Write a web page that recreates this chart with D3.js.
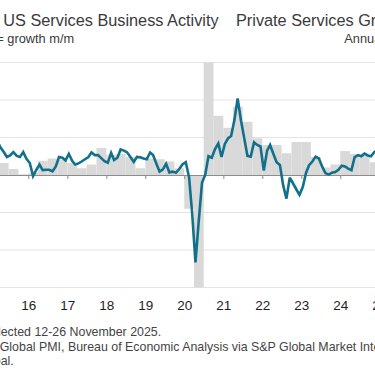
<!DOCTYPE html>
<html><head><meta charset="utf-8">
<script src="https://cdn.jsdelivr.net/npm/d3@7"></script>
<style>html,body{margin:0;padding:0;background:#fff;overflow:hidden}svg{display:block}</style>
</head><body>
<svg id="c" width="375" height="375"></svg>
<script>
// ---------- data ----------
const pmiStart = [2015, 0];           // first month (Jan 2015)
const pmiValues = [
  54.2, 57.1, 59.2, 57.4, 56.2, 54.8, 55.2, 56.1, 55.1, 54.8, 56.1, 54.3,   // 2015
  53.2, 49.7, 51.3, 52.8, 51.3, 51.4, 51.4, 51.0, 52.3, 54.8, 54.6, 53.9,   // 2016
  55.6, 53.8, 52.8, 53.1, 53.6, 54.2, 54.7, 56.0, 55.3, 55.3, 54.5, 53.7,   // 2017
  53.3, 55.9, 54.0, 54.6, 56.8, 56.5, 56.0, 54.8, 53.5, 54.8, 54.7, 54.4,   // 2018
  54.2, 56.0, 55.3, 53.0, 50.9, 51.5, 53.0, 50.7, 50.9, 50.6, 51.6, 52.8,   // 2019
  53.4, 49.4, 39.8, 26.7, 37.5, 47.9, 50.0, 55.0, 54.6, 56.9, 58.4, 54.8,   // 2020
  58.3, 59.8, 60.4, 64.7, 70.4, 64.6, 59.9, 55.1, 54.9, 58.7, 58.0, 57.6,   // 2021
  51.2, 56.5, 58.0, 55.6, 53.4, 52.7, 47.3, 43.7, 49.3, 47.8, 46.2, 44.7,   // 2022
  46.8, 50.6, 52.6, 53.6, 54.9, 54.4, 52.3, 50.5, 50.1, 50.6, 50.8, 51.4,   // 2023
  52.5, 52.3, 51.7, 51.3, 54.8, 55.3, 55.0, 55.7, 55.2, 55.0, 56.1, 56.8,   // 2024
  52.9, 51.0, 54.4, 50.8, 53.7, 52.9, 55.7, 54.5, 54.2, 54.8, 55.0          // 2025
];
const gdpStart = [2015, 0];           // first quarter (Q1 2015)
const gdpValues = [
  2.4, 1.6, 0.8, 0.1,     // 2015
  0.3, 1.9, 2.2, 2.0,     // 2016
  1.6, 0.9, 1.4, 3.6,     // 2017
  2.7, 2.8, 2.4, 0.9,     // 2018
  2.2, 2.1, 1.8, 0.9,     // 2019
  -4.5, -30.0, 40.0, 7.9, // 2020
  6.3, 9.1, 7.1, 4.9,     // 2021
  4.0, 4.0, 2.9, 4.4,     // 2022
  4.4, 2.4, 1.0, 1.4,     // 2023
  3.2, 2.8, 2.6, 1.7,     // 2024
  -0.6, 3.3, 3.5          // 2025
];
const domainYears = [2015, 2025];
const yearTicks = [2016, 2017, 2018, 2019, 2020, 2021, 2022, 2023, 2024, 2025];
const leftGrid = [20, 30, 40, 60, 70, 80];
const leftDomain = [20, 80];
const rightDomain = [-15, 15];
const titleLeft = "S&P Global US Services Business Activity";
const subLeft = "Index, sa, >50 = growth m/m";
const titleRight = "Private Services Growth";
const subRight = "Annualized % change q/q";
const footLines = [
  "Data were collected 12-26 November 2025.",
  "Source: S&P Global PMI, Bureau of Economic Analysis via S&P Global Market Intelligence.",
  "© 2025 S&P Global."
];

// ---------- layout ----------
const plot = {left: -10.7, right: 418.3, top: 62.5, bottom: 287.5};
const svg = d3.select("#c");
const FONT = "'Liberation Sans', Arial, sans-serif";

const x = d3.scaleTime()
  .domain([new Date(domainYears[0], 0, 1), new Date(domainYears[1] + 1, 0, 1)])
  .range([plot.left, plot.right]);
const yL = d3.scaleLinear().domain(leftDomain).range([plot.bottom, plot.top]);
const yR = d3.scaleLinear().domain(rightDomain).range([plot.bottom, plot.top]);

const pmi = pmiValues.map((v, i) => ({date: new Date(pmiStart[0], pmiStart[1] + i, 15), v}));
const gdp = gdpValues.map((v, i) => ({
  start: new Date(gdpStart[0], gdpStart[1] + 3 * i, 1),
  end: new Date(gdpStart[0], gdpStart[1] + 3 * i + 3, 1), v}));

svg.append("defs").append("clipPath").attr("id", "clip")
  .append("rect").attr("x", plot.left).attr("y", plot.top)
  .attr("width", plot.right - plot.left).attr("height", plot.bottom - plot.top);

// gridlines
svg.append("g").selectAll("line").data(leftGrid).join("line")
  .attr("x1", plot.left).attr("x2", plot.right)
  .attr("y1", d => yL(d)).attr("y2", d => yL(d))
  .attr("stroke", "#e4e4e4").attr("stroke-width", 1);

// bars
svg.append("g").attr("clip-path", "url(#clip)").selectAll("rect").data(gdp).join("rect")
  .attr("x", d => x(d.start))
  .attr("width", d => x(d.end) - x(d.start))
  .attr("y", d => Math.min(yR(0), yR(d.v)))
  .attr("height", d => Math.abs(yR(d.v) - yR(0)))
  .attr("fill", "#d9d9d9");

// zero axis with year ticks
const tickDates = yearTicks.map(y => new Date(y, 0, 1));
const axZero = svg.append("g").attr("transform", `translate(0,${yL(50)})`)
  .call(d3.axisBottom(x).tickValues(tickDates).tickSize(4).tickFormat(""));
axZero.select(".domain").attr("stroke", "#8c8c8c").attr("d", `M${plot.left},0.5H${plot.right}`);
axZero.selectAll(".tick line").attr("stroke", "#8c8c8c");

// year labels
const axLab = svg.append("g").attr("transform", `translate(0,${plot.bottom})`)
  .call(d3.axisBottom(x).tickValues(tickDates)
    .tickSize(0).tickPadding(13).tickFormat(d3.timeFormat("%y")));
axLab.select(".domain").remove();
axLab.selectAll("text").attr("font-family", FONT).attr("font-size", 13.5)
  .attr("fill", "#1e1e1e");

// line
svg.append("path").datum(pmi)
  .attr("d", d3.line().x(d => x(d.date)).y(d => yL(d.v)))
  .attr("fill", "none").attr("stroke", "#13708a").attr("stroke-width", 2.6)
  .attr("stroke-linejoin", "miter").attr("stroke-miterlimit", 3);

// text helper: place text so that the char at index `from` starts at visX
function placeText(str, from, visX, y, size, fill) {
  const t = svg.append("text").attr("y", y).attr("font-family", FONT)
    .attr("font-size", size).attr("fill", fill).text(str);
  const off = from > 0 ? t.node().getSubStringLength(0, from) : 0;
  t.attr("x", visX - off);
  return t;
}
placeText(titleLeft, titleLeft.indexOf("US"), 3.3, 26, 16.3, "#3a3a3a");
placeText(subLeft, subLeft.indexOf("growth"), 7.3, 43.3, 12.8, "#3a3a3a");
placeText(titleRight, 0, 236, 26, 16.3, "#3a3a3a");
placeText(subRight, 0, 344.3, 43.3, 12.8, "#3a3a3a");
placeText(footLines[0], footLines[0].indexOf("ected"), 0.7, 336, 12.4, "#444");
placeText(footLines[1], footLines[1].indexOf("Global"), -0.3, 350.7, 12.4, "#444");
placeText(footLines[2], footLines[2].indexOf("al."), 0.7, 365, 12.4, "#444");
</script>
</body></html>
